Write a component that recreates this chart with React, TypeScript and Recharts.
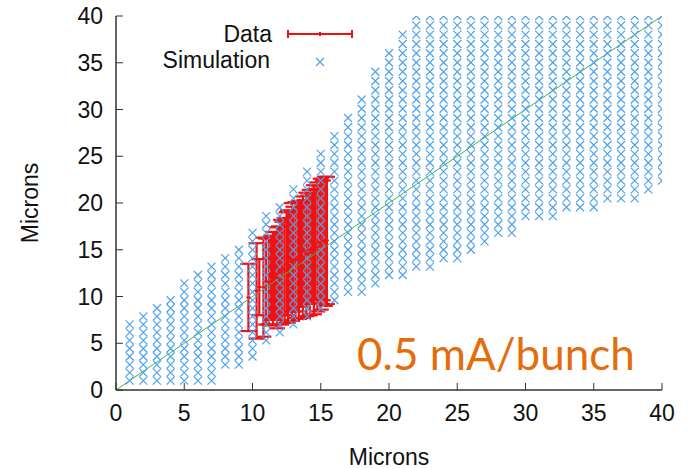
import React from 'react';
import { ScatterChart, Scatter, XAxis, YAxis, ErrorBar, ReferenceLine } from 'recharts';

const ticks = [0, 5, 10, 15, 20, 25, 30, 35, 40];

// simulation scan: one column per x, marks between simLow and simHigh on the rows below
const simX = [1, 2, 3, 4, 5, 6, 7, 8, 9, 10, 11, 12, 13, 14, 15, 16, 17, 18, 19, 20,
  21, 22, 23, 24, 25, 26, 27, 28, 29, 30, 31, 32, 33, 34, 35, 36, 37, 38, 39, 40];
const simLow = [1, 1, 1, 1, 1, 1, 1, 2.5, 3, 4, 5, 5.9, 6.8, 7.7, 8.6, 9.6, 10.2, 10.8, 11.4, 12,
  12.5, 13, 13.5, 14, 14.5, 15.2, 16.1, 17, 17, 18.2, 18.2, 18.4, 19.3, 19.3, 19.7, 20.2, 20.2, 20.7, 21.3, 22.3];
const simHigh = [7, 8, 9, 10, 11, 12, 13, 14, 15.2, 17, 18.2, 19.5, 21.2, 23.3, 25.3, 27.3, 29.3, 31.2, 34.2, 36.2,
  38.1, 40, 40, 40, 40, 40, 40, 40, 40, 40, 40, 40, 40, 40, 40, 40, 40, 40, 40, 40];
const simRows = [1, 1.86, 2.72, 3.58, 4.44, 5.3, 6.16, 7.02, 7.88, 8.74, 9.6, 10.5, 11.4, 12.3, 13.2,
  14.1, 15, 15.9, 16.8, 17.7, 18.6, 19.55, 20.5, 21.45, 22.4, 23.35, 24.3, 25.25, 26.2, 27.15,
  28.1, 29.09, 30.08, 31.07, 32.06, 33.05, 34.04, 35.03, 36.02, 37.01, 38, 39, 40];

// measured data with y error
const dataX = [9.7, 10.3, 10.5, 10.8, 11.0, 11.2, 11.35, 11.5, 11.65, 11.8, 11.95, 12.1, 12.2, 12.35,
  12.5, 12.6, 12.75, 12.9, 13.0, 13.15, 13.3, 13.4, 13.55, 13.7, 13.8, 13.95, 14.1, 14.2, 14.35,
  14.5, 14.6, 14.75, 14.9, 15.0, 15.15, 15.3, 15.45];
const dataY = [9.9, 10.6, 11.0, 11.0, 11.6, 11.6, 12.0, 11.9, 12.3, 12.0, 12.5, 12.6, 13.0, 12.8,
  13.5, 13.2, 13.8, 13.7, 14.0, 13.9, 14.2, 13.9, 14.5, 14.2, 14.8, 14.5, 15.0, 14.7, 15.2,
  15.0, 15.6, 15.3, 15.8, 15.6, 16.0, 15.9, 16.0];
const dataErr = [3.6, 5.1, 3.0, 5.3, 4.6, 4.6, 4.5, 5.0, 4.6, 5.4, 5.0, 5.6, 5.0, 5.6,
  5.5, 6.0, 5.4, 6.3, 5.6, 6.2, 5.8, 6.3, 5.6, 6.5, 5.5, 6.6, 5.8, 6.7, 5.9,
  6.9, 5.9, 6.9, 6.0, 7.0, 6.4, 6.9, 6.8];

const diag = [0, 40];

const simPoints: { x: number; y: number }[] = [];
simX.forEach((x, i) => {
  simRows.forEach(r => {
    if (r >= simLow[i] - 0.45 && r <= simHigh[i] + 0.45) simPoints.push({ x, y: r });
  });
});

const dataPoints = dataX.map((x, i) => ({ x, y: dataY[i], err: dataErr[i] }));

const BLUE = '#4fa2ea';
const RED = '#f21010';
const FONT = '"Liberation Sans", Arial, sans-serif';

const XMark = (props: any) => {
  const { cx, cy } = props;
  const s = 4;
  return (
    <path
      d={`M${cx - s},${cy - s}L${cx + s},${cy + s}M${cx - s},${cy + s}L${cx + s},${cy - s}`}
      stroke={BLUE}
      strokeWidth={1.2}
      fill="none"
    />
  );
};

const DataMark = (props: any) => {
  const { cx, cy } = props;
  return <path d={`M${cx - 2},${cy}L${cx + 2},${cy}`} stroke={RED} strokeWidth={2} />;
};

const axisStyle = { stroke: '#333', strokeWidth: 1.5 };
const tickStyle = { fontSize: 23, fill: '#111', fontFamily: FONT };

export default function App() {
  return (
    <div style={{ position: 'absolute', left: 0, top: 0, width: 688, height: 469, background: '#fff' }}>
      <ScatterChart width={688} height={469} margin={{ top: 16, right: 26, left: 0, bottom: 0 }}>
        <XAxis
          type="number"
          dataKey="x"
          domain={[0, 40]}
          ticks={ticks}
          allowDataOverflow
          height={79}
          tickSize={-7}
          tickMargin={22}
          axisLine={axisStyle}
          tickLine={{ stroke: '#333' }}
          tick={tickStyle}
          label={{ value: 'Microns', position: 'insideBottom', offset: 4, style: { fontSize: 23, fill: '#111', fontFamily: FONT } }}
        />
        <XAxis
          xAxisId="top"
          orientation="top"
          type="number"
          domain={[0, 40]}
          ticks={ticks}
          height={0}
          tickSize={-7}
          axisLine={axisStyle}
          tickLine={{ stroke: '#333' }}
          tick={false}
        />
        <YAxis
          type="number"
          dataKey="y"
          domain={[0, 40]}
          ticks={ticks}
          allowDataOverflow
          width={116}
          tickSize={-7}
          tickMargin={20}
          axisLine={axisStyle}
          tickLine={{ stroke: '#333' }}
          tick={tickStyle}
          label={{ value: 'Microns', angle: -90, position: 'insideLeft', offset: 30, style: { textAnchor: 'middle', fontSize: 23, fill: '#111', fontFamily: FONT } }}
        />
        <YAxis
          yAxisId="right"
          orientation="right"
          type="number"
          domain={[0, 40]}
          ticks={ticks}
          width={0}
          tickSize={-7}
          axisLine={axisStyle}
          tickLine={{ stroke: '#333' }}
          tick={false}
        />
        <Scatter data={simPoints} shape={XMark} isAnimationActive={false} />
        <Scatter data={dataPoints} shape={DataMark} isAnimationActive={false}>
          <ErrorBar dataKey="err" direction="y" width={8} stroke={RED} strokeWidth={2.2} isAnimationActive={false} />
        </Scatter>
        <ReferenceLine
          segment={[{ x: diag[0], y: diag[0] }, { x: diag[1], y: diag[1] }]}
          stroke="#3cb83c"
          strokeWidth={1}
        />
      </ScatterChart>
      <svg width={688} height={469} style={{ position: 'absolute', left: 0, top: 0, pointerEvents: 'none' }}>
        <g fontFamily={FONT} fontSize={23} fill="#111">
          <text x={272} y={42} textAnchor="end">Data</text>
          <text x={270} y={68} textAnchor="end">Simulation</text>
        </g>
        <g stroke={RED} strokeWidth={2}>
          <line x1={288} y1={34} x2={352} y2={34} />
          <line x1={288} y1={30} x2={288} y2={38} />
          <line x1={352} y1={30} x2={352} y2={38} />
          <line x1={320} y1={32} x2={320} y2={36} />
        </g>
        <XMark cx={320} cy={62} />
        <text x={357} y={370} fontFamily="Lato, sans-serif" fontSize={44} fill="#e46c0a">0.5 mA/bunch</text>
      </svg>
    </div>
  );
}
